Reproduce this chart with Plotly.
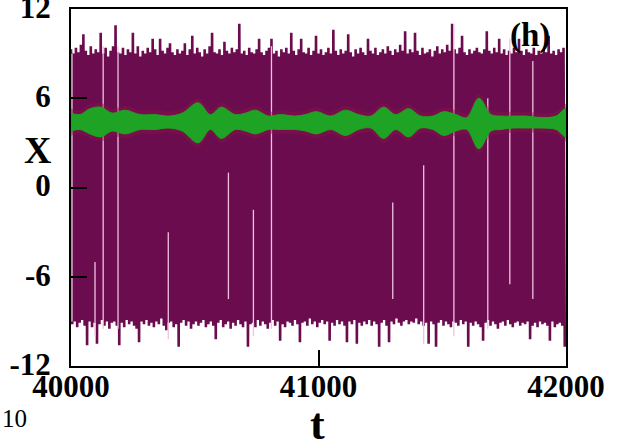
import plotly.graph_objects as go

# ---------------- data ----------------
t_start = 40000
t_step = 10  # time between successive maxima of the fast oscillation

upper_peaks = [
    9.3, 9.0, 9.4, 9.1, 9.6, 10.3, 9.2, 8.9, 9.5, 9.0,
    9.3, 9.1, 10.4, 9.0, 9.4, 8.8, 9.2, 9.5, 10.9, 9.1,
    9.0, 9.4, 8.9, 9.3, 9.1, 10.4, 9.0, 9.5, 8.8, 9.2,
    9.0, 9.4, 9.1, 10.0, 9.3, 8.9, 10.0, 9.2, 9.0, 9.4,
    9.7, 9.1, 8.9, 9.3, 9.0, 9.2, 9.7, 8.9, 9.3, 10.2,
    9.0, 9.4, 9.1, 8.8, 9.3, 9.0, 9.5, 10.4, 9.1, 9.0,
    9.3, 8.9, 9.8, 9.2, 9.0, 9.4, 9.1, 9.3, 11.0, 9.0,
    9.2, 8.9, 9.4, 9.1, 9.0, 9.3, 10.0, 9.1, 8.9, 9.2,
    9.4, 10.0, 9.0, 9.2, 8.8, 9.3, 9.1, 9.4, 9.0, 10.4,
    9.2, 8.9, 9.3, 10.0, 9.1, 9.0, 9.4, 8.9, 9.2, 10.2,
    9.0, 9.3, 8.9, 9.1, 9.4, 9.0, 10.6, 9.2, 8.9, 9.3,
    9.0, 9.2, 10.3, 9.1, 8.8, 9.3, 9.0, 9.4, 9.1, 8.9,
    10.0, 9.2, 9.0, 9.4, 8.9, 9.1, 9.3, 9.0, 9.5, 9.2,
    8.9, 9.3, 9.1, 9.6, 9.2, 10.5, 9.0, 9.3, 9.1, 10.4,
    9.2, 8.9, 9.4, 9.0, 9.1, 9.3, 8.8, 9.2, 9.5, 9.0,
    9.3, 9.1, 9.6, 9.2, 11.0, 9.3, 9.0, 9.4, 10.2, 9.1,
    8.9, 9.3, 9.0, 9.2, 9.4, 9.1, 9.0, 9.3, 10.5, 9.2,
    9.0, 9.4, 9.1, 10.0, 9.0, 9.3, 8.9, 9.2, 9.0, 9.4,
    9.1, 10.0, 9.2, 8.9, 9.3, 9.1, 9.0, 9.4, 8.9, 9.2,
    9.0, 9.3, 9.1, 10.2, 9.0, 9.2, 8.9, 9.3, 9.1, 9.4,
]

lower_troughs = [
    -9.2, -9.0, -9.4, -9.1, -8.9, -9.3, -10.6, -9.0, -9.4, -9.1,
    -10.5, -9.2, -8.9, -9.3, -9.0, -9.5, -9.1, -9.0, -9.3, -10.6,
    -9.1, -9.4, -8.9, -9.2, -9.0, -9.3, -9.5, -10.4, -9.0, -9.2,
    -8.9, -9.3, -9.1, -9.4, -9.0, -9.2, -8.8, -9.3, -9.6, -9.1,
    -9.0, -9.4, -9.2, -10.7, -9.1, -8.9, -9.3, -9.0, -9.5, -9.2,
    -9.0, -9.3, -9.1, -8.9, -9.4, -9.2, -9.0, -9.3, -10.2, -9.1,
    -8.9, -9.4, -9.2, -9.0, -9.5, -9.1, -9.3, -8.9, -9.2, -9.4,
    -9.0, -10.7, -9.2, -9.1, -9.4, -8.9, -9.3, -9.0, -9.2, -9.5,
    -9.1, -8.9, -9.3, -9.0, -10.3, -9.2, -9.4, -9.0, -9.1, -9.3,
    -8.9, -9.2, -10.4, -9.1, -9.0, -9.3, -8.8, -9.2, -9.0, -9.4,
    -9.1, -8.9, -9.2, -9.0, -10.3, -9.1, -9.3, -8.9, -9.2, -9.0,
    -9.3, -10.4, -9.0, -9.2, -8.9, -10.5, -9.1, -9.3, -9.0, -9.2,
    -8.9, -9.3, -9.0, -9.2, -10.7, -9.1, -8.9, -9.3, -10.4, -9.0,
    -9.2, -8.8, -9.1, -9.3, -9.0, -8.9, -9.2, -9.0, -9.1, -8.8,
    -9.2, -9.0, -9.3, -9.1, -10.5, -9.0, -9.2, -10.7, -9.1, -8.9,
    -9.3, -9.0, -9.2, -9.4, -9.0, -9.1, -9.3, -8.9, -9.2, -9.0,
    -10.7, -9.1, -9.3, -9.0, -9.2, -9.4, -10.3, -9.1, -8.9, -9.3,
    -9.0, -9.2, -9.5, -9.1, -9.0, -9.3, -8.9, -9.2, -9.4, -9.1,
    -9.0, -9.3, -9.1, -9.2, -9.0, -10.2, -9.3, -9.1, -9.4, -9.0,
    -9.2, -9.1, -9.3, -10.3, -9.0, -9.4, -9.2, -9.1, -9.3, -10.7,
]

# short interruptions of the fast oscillation (light streaks)
gap_t = [40004, 40097, 40130, 40190, 40393, 40636, 40737, 40810,
         41300, 41425, 41547, 41684, 41773, 41866]
gap_lo = [-9.0, -10.0, -9.5, -9.5, -10.2, -7.5, -10.0, -9.5,
          -7.5, -10.5, -10.0, -9.5, -6.5, -7.5]
gap_hi = [9.0, -5.0, 9.5, 9.5, -3.0, 1.0, -1.5, 9.5,
          -1.0, 1.5, 11.0, 6.0, 10.0, 8.5]

# slow (green) variable: envelope of its oscillation
green_t = [40000, 40036, 40077, 40121, 40166, 40219, 40279, 40340, 40393, 40449,
           40514, 40563, 40607, 40664, 40705, 40745, 40798, 40846, 40907, 40947,
           40992, 41049, 41109, 41162, 41211, 41263, 41312, 41364, 41413, 41462,
           41506, 41555, 41599, 41648, 41697, 41737, 41786, 41838, 41899, 41960,
           42000]
green_hi = [5.0, 4.9, 5.3, 5.4, 5.0, 5.2, 4.9, 4.9, 4.8, 5.0,
            5.7, 4.9, 5.4, 4.9, 5.0, 5.2, 4.8, 4.9, 4.8, 4.9,
            5.1, 4.8, 5.2, 4.9, 4.8, 5.4, 4.9, 5.3, 4.8, 4.8,
            5.1, 4.9, 4.7, 6.0, 4.9, 4.8, 4.8, 4.8, 4.7, 4.8,
            5.3]
green_lo = [3.8, 3.9, 3.6, 3.4, 3.8, 3.6, 3.9, 3.9, 4.0, 3.8,
            3.0, 3.9, 3.3, 3.9, 3.8, 3.6, 3.9, 3.9, 3.9, 3.8,
            3.6, 3.9, 3.5, 3.9, 4.0, 3.3, 3.9, 3.4, 4.0, 3.9,
            3.5, 3.8, 3.9, 2.6, 3.8, 3.9, 4.0, 4.0, 4.0, 3.9,
            3.4]

x_ticks = [40000, 41000, 42000]
y_ticks = [-12, -6, 0, 6, 12]

# ---------------- figure ----------------
fast_t, fast_v = [], []
for i, (hi, lo) in enumerate(zip(upper_peaks, lower_troughs)):
    fast_t += [t_start + i * t_step, t_start + i * t_step + t_step / 2]
    fast_v += [hi, lo]

gx, gy = [], []
for t, lo, hi in zip(gap_t, gap_lo, gap_hi):
    gx += [t, t, None]
    gy += [lo, hi, None]

fig = go.Figure()
fig.add_trace(go.Scatter(x=fast_t, y=fast_v, mode="lines",
                         line=dict(color="#6a0c4e", width=2.6),
                         hoverinfo="skip", showlegend=False))
fig.add_trace(go.Scatter(x=gx, y=gy, mode="lines",
                         line=dict(color="#f0c2e0", width=1.3),
                         hoverinfo="skip", showlegend=False))
# faint red halo around the green band
fig.add_trace(go.Scatter(x=green_t + green_t[::-1],
                         y=[v + 0.3 for v in green_hi] + [v - 0.3 for v in green_lo[::-1]],
                         mode="lines", fill="toself", fillcolor="rgba(140,20,70,0.45)",
                         line=dict(width=0, shape="spline"),
                         hoverinfo="skip", showlegend=False))
fig.add_trace(go.Scatter(x=green_t + green_t[::-1], y=green_hi + green_lo[::-1],
                         mode="lines", fill="toself", fillcolor="#1ea324",
                         line=dict(color="#1ea324", width=1, shape="spline"),
                         hoverinfo="skip", showlegend=False))

tick_font = dict(family="Liberation Serif", size=31, color="black")
fig.update_xaxes(range=[40000, 42000], tickvals=x_ticks,
                 ticktext=["<b>%d</b>" % v for v in x_ticks],
                 ticks="inside", ticklen=16, tickwidth=2, tickcolor="black",
                 showline=True, linecolor="black", linewidth=2, mirror=True,
                 showgrid=False, zeroline=False, tickfont=tick_font,
                 ticklabeloverflow="allow", ticklabelstandoff=-8,
                 automargin=False)
fig.update_yaxes(range=[-12, 12], tickvals=y_ticks,
                 ticktext=["<b>%d</b>" % v for v in y_ticks],
                 ticks="inside", ticklen=16, tickwidth=2, tickcolor="black",
                 showline=True, linecolor="black", linewidth=2, mirror=True,
                 showgrid=False, zeroline=False, tickfont=tick_font,
                 ticklabeloverflow="allow", ticklabelstandoff=12,
                 ticklabelshift=-2, automargin=False)

ann_font = dict(family="Liberation Serif", color="black")
def note(text, x, y, size):
    fig.add_annotation(text=text, xref="paper", yref="paper", x=x, y=y,
                       xanchor="center", yanchor="middle", showarrow=False,
                       font=dict(size=size, **ann_font))

note("<b>X</b>", -0.067, 0.605, 38)
note("<b>t</b>", 0.497, -0.165, 44)
note("<b>(h)</b>", 0.927, 0.925, 33)
note("10", -0.115, -0.148, 25)

fig.update_layout(width=623, height=444,
                  margin=dict(l=71, r=57, t=9, b=78),
                  plot_bgcolor="white", paper_bgcolor="white",
                  showlegend=False)
fig.write_html("out.html")
